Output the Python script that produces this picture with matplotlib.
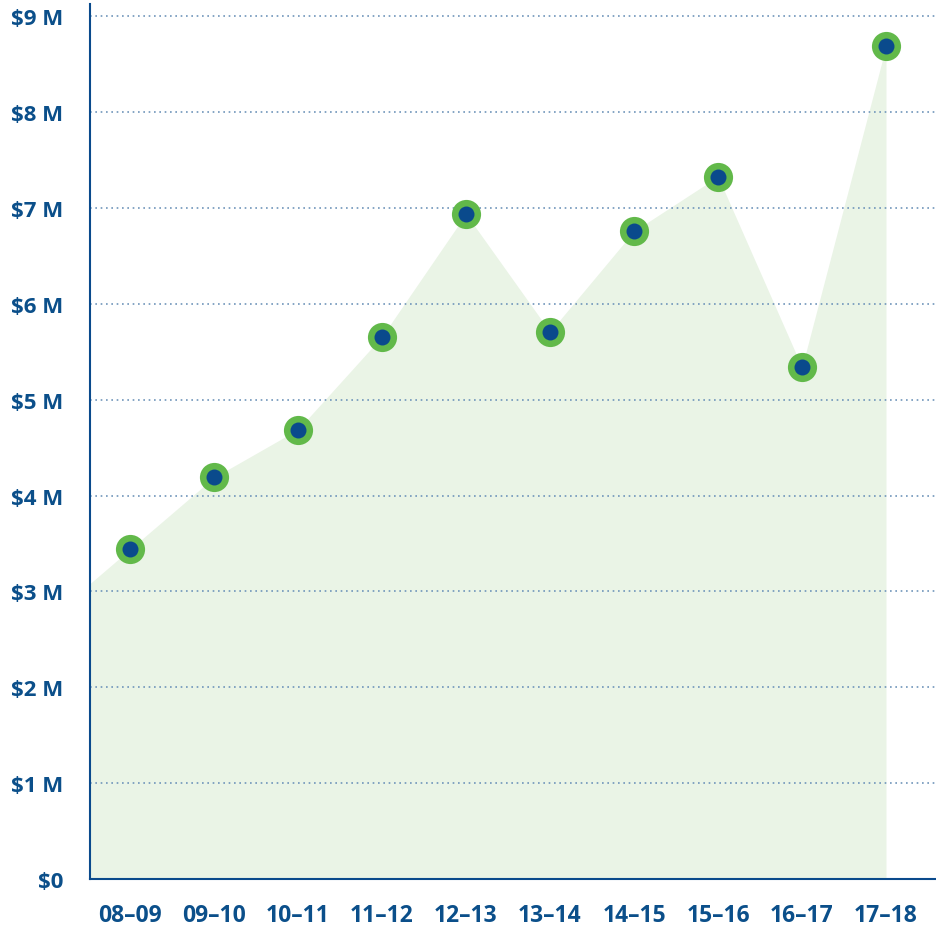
import matplotlib
matplotlib.use("Agg")
import matplotlib.pyplot as plt
import numpy as np

categories = ["08–09", "09–10", "10–11", "11–12", "12–13", "13–14", "14–15", "15–16", "16–17", "17–18"]
values = [3.44, 4.19, 4.69, 5.66, 6.94, 5.71, 6.76, 7.33, 5.34, 8.69]  # $ millions
ytick_vals = [0, 1, 2, 3, 4, 5, 6, 7, 8, 9]
ytick_labels = ["$0", "$1 M", "$2 M", "$3 M", "$4 M", "$5 M", "$6 M", "$7 M", "$8 M", "$9 M"]

TEXT = "#0b4f8a"
GREEN = "#62b94a"
DARK = "#0a4a8c"
FILL = "#eaf4e6"
GRID = "#6f95ba"

plt.rcParams['font.family'] = ['Open Sans', 'DejaVu Sans']

fig = plt.figure(figsize=(9.37, 9.28), dpi=100)
ax = fig.add_axes([90/937, 48/928, 847/937, 875/928])

x = np.arange(len(values))
xleft = -0.476
xlim_right = 9.607
# extend the area linearly to the left axis edge
v_left = values[0] + (values[1] - values[0]) * (xleft - x[0])
fx = np.concatenate([[xleft], x])
fy = np.concatenate([[v_left], values])
ax.fill_between(fx, 0, fy, color=FILL, lw=0, zorder=1)

for yv in ytick_vals[1:]:
    ax.axhline(yv, color=GRID, lw=1.2, ls=(0, (1, 2.2)), zorder=2)

ax.plot(x, values, ls="none", marker="o", markersize=21, markerfacecolor=GREEN,
        markeredgewidth=0, zorder=3)
ax.plot(x, values, ls="none", marker="o", markersize=11.5, markerfacecolor=DARK,
        markeredgewidth=0, zorder=4)

ax.set_xlim(xleft, xlim_right)
ax.set_ylim(0, 9.13)
ax.set_xticks(x)
ax.set_xticklabels(categories, fontsize=16.5, fontweight="bold", color=TEXT)
ax.set_yticks(ytick_vals)
ax.set_yticklabels(ytick_labels, fontsize=16, fontweight="bold", color=TEXT)
ax.tick_params(axis="x", length=0, pad=17)
ax.tick_params(axis="y", length=0, pad=19)

for s in ["top", "right"]:
    ax.spines[s].set_visible(False)
for s in ["left", "bottom"]:
    ax.spines[s].set_color(DARK)
    ax.spines[s].set_linewidth(1.5)

fig.savefig("out.png", dpi=100)
